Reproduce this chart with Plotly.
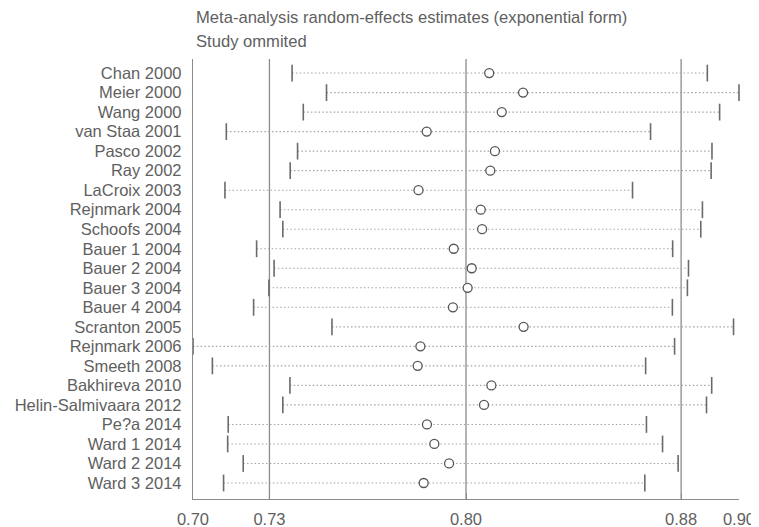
import plotly.graph_objects as go

studies = ["Chan 2000", "Meier 2000", "Wang 2000", "van Staa 2001", "Pasco 2002",
           "Ray 2002", "LaCroix 2003", "Rejnmark 2004", "Schoofs 2004", "Bauer 1 2004",
           "Bauer 2 2004", "Bauer 3 2004", "Bauer 4 2004", "Scranton 2005", "Rejnmark 2006",
           "Smeeth 2008", "Bakhireva 2010", "Helin-Salmivaara 2012", "Pe?a 2014",
           "Ward 1 2014", "Ward 2 2014", "Ward 3 2014"]
lower = [0.7363, 0.7489, 0.7404, 0.7122, 0.7383, 0.7356, 0.7117, 0.7319, 0.7329, 0.7233,
         0.7297, 0.7278, 0.7222, 0.7509, 0.7000, 0.7071, 0.7355, 0.7329, 0.7129, 0.7127,
         0.7184, 0.7112]
estimate = [0.8085, 0.8209, 0.8131, 0.7856, 0.8106, 0.8089, 0.7826, 0.8054, 0.8059, 0.7955,
            0.8021, 0.8006, 0.7952, 0.8211, 0.7833, 0.7823, 0.8093, 0.8066, 0.7857, 0.7884,
            0.7938, 0.7845]
upper = [0.8884, 0.9000, 0.8929, 0.8676, 0.8901, 0.8898, 0.8610, 0.8866, 0.8860, 0.8757,
         0.8815, 0.8811, 0.8756, 0.8980, 0.8764, 0.8658, 0.8900, 0.8881, 0.8661, 0.8720,
         0.8777, 0.8655]
overall = [0.7280, 0.8000, 0.8788]  # lower CI, estimate, upper CI of full meta-analysis
x_ticks = [0.7000, 0.7280, 0.8000, 0.8788, 0.9000]
x_tick_text = ["0.70", "0.73", "0.80", "0.88", "0.90"]
title_lines = ["Meta-analysis random-effects estimates (exponential form)", "Study ommited"]

FONT = "Liberation Sans, Arial, sans-serif"
TXT = "#5f5f5f"
AX = "#8c8c8c"

yidx = list(range(len(studies)))

lx, ly = [], []
for i, (lo, hi) in enumerate(zip(lower, upper)):
    lx += [lo, hi, None]
    ly += [i, i, None]

fig = go.Figure()
fig.add_trace(go.Scatter(x=lx, y=ly, mode="lines",
                         line=dict(color="#a4a4a4", width=1.1, dash="1.5px,2.3px"),
                         hoverinfo="skip", showlegend=False, cliponaxis=False))
fig.add_trace(go.Scatter(x=lower + upper, y=yidx + yidx, mode="markers",
                         marker=dict(symbol="line-ns", size=12,
                                     line=dict(color="#6a6a6a", width=1.6)),
                         showlegend=False, cliponaxis=False))
fig.add_trace(go.Scatter(x=estimate, y=yidx, mode="markers",
                         marker=dict(symbol="circle", size=9, color="white",
                                     line=dict(color="#555555", width=1.3)),
                         showlegend=False, cliponaxis=False))

for v in overall:
    fig.add_shape(type="line", x0=v, x1=v, xref="x", y0=0, y1=1, yref="paper",
                  line=dict(color=AX, width=1.3), layer="below")

for k, t in enumerate(title_lines):
    fig.add_annotation(text=t, xref="paper", yref="paper", x=0.002, y=1,
                       yshift=42 - 24 * k, xanchor="left", yanchor="middle",
                       showarrow=False, font=dict(family=FONT, size=16.6, color=TXT))

# page body has an 8px default margin: figure is 751x519 so it fits the 759x527 window
fig.update_layout(
    width=751, height=519,
    margin=dict(l=185, r=20, t=51, b=28, autoexpand=False),
    paper_bgcolor="white", plot_bgcolor="white",
    font=dict(family=FONT, color=TXT),
    xaxis=dict(range=[0.70, 0.90], tickvals=x_ticks, ticktext=x_tick_text, automargin=False,
               showgrid=False, zeroline=False, showline=True, linecolor=AX, linewidth=1.3,
               ticks="inside", ticklen=6, tickcolor=AX, ticklabelstandoff=5,
               tickfont=dict(size=16.5, color=TXT)),
    yaxis=dict(range=[21.82, -0.72], tickvals=yidx, ticktext=studies, automargin=False,
               showgrid=False, zeroline=False, showline=True, linecolor=AX, linewidth=1.3,
               ticks="", ticklabelstandoff=7, tickfont=dict(size=16.5, color=TXT)),
)

fig.write_html("out.html")
